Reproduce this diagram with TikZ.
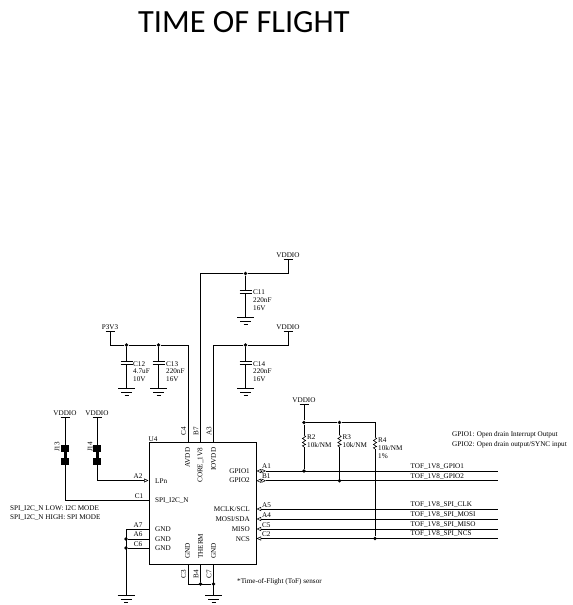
\documentclass[tikz,border=0pt]{standalone}
\usepackage{fontspec}
\setmainfont{Liberation Serif}
\newfontfamily\titlefont{Carlito}
\usetikzlibrary{arrows.meta,positioning}

\tikzset{
	lbl/.style={inner sep=0pt, font=\fontsize{7.2}{8}\selectfont},
	wire/.style={line width=0.8bp},
	dot/.style={shape=circle, fill=black, inner sep=0pt, minimum size=3.8bp},
	gndsym/.pic={\draw[line width=0.8bp] (-8.5,0) -- (8.5,0) (-5.5,3.8) -- (5.5,3.8) (-2,7.2) -- (2,7.2);},
	railbar/.pic={\draw[line width=0.8bp] (-4.5,0) -- (4.5,0);},
	capsym/.pic={\fill[white] (-6,0) rectangle (6,3); \draw[line width=0.8bp] (-6,0) -- (6,0) (-6,3) -- (6,3);},
	ressym/.pic={\fill[white] (-3,-6) rectangle (3,6); \draw[line width=0.6bp] (0,-6) -- (1.6,-4.5) -- (-1.6,-2.5) -- (1.6,-0.5) -- (-1.6,1.5) -- (1.6,3.5) -- (-1.6,4.8) -- (0,6);},
	jumpsym/.pic={\fill (-4,-7) rectangle (4,0); \fill (-1.5,0) rectangle (1.5,6); \fill (-4,6) rectangle (4,13);},
}

\begin{document}
\begin{tikzpicture}[x=1bp,y=-1bp,>={Triangle[open,length=4.5bp,width=4bp,line width=0.5bp]}]
	\useasboundingbox (0,0) rectangle (573,605);
	% create the nodes
	\node (title)[inner sep=0pt, anchor=base west, font=\titlefont\fontsize{32.5}{36}\selectfont] at (138,33) {TIME OF FLIGHT};
	\node (u4)[draw, line width=0.8bp, minimum width=107.5bp, minimum height=122bp, inner sep=0pt, anchor=north west] at (148.5,442.2) {};
	\node (u4name)[lbl, anchor=south west] at (148.5,441.5) {U4};

	% supply rails
	\coordinate (vdd1) at (288,259);
	\coordinate (vdd2) at (288,331);
	\coordinate (vdd3) at (304,404);
	\coordinate (vdd4) at (65,417);
	\coordinate (vdd5) at (97,417);
	\coordinate (p3v3) at (110,331);
	\node (vdd1lbl)[lbl, above =1.5bp of vdd1] {VDDIO};
	\node (vdd2lbl)[lbl, above =1.5bp of vdd2] {VDDIO};
	\node (vdd3lbl)[lbl, above =1.5bp of vdd3] {VDDIO};
	\node (vdd4lbl)[lbl, above =1.5bp of vdd4] {VDDIO};
	\node (vdd5lbl)[lbl, above =1.5bp of vdd5] {VDDIO};
	\node (p3v3lbl)[lbl, above =1.5bp of p3v3] {P3V3};

	% junctions
	\node (j11)[dot] at (245.5,273.5) {};
	\node (j14)[dot] at (245.5,345) {};
	\node (j12)[dot] at (126.5,345) {};
	\node (j13)[dot] at (158.5,345) {};
	\node (jr2)[dot] at (304,422.5) {};
	\node (jr3)[dot] at (339.5,422.5) {};
	\node (jg1)[dot] at (304,471) {};
	\node (jg2)[dot] at (339.5,480.7) {};
	\node (jncs)[dot] at (375,538.5) {};
	\node (ja6)[dot] at (126,539) {};
	\node (jc6)[dot] at (126,548) {};
	\node (jb4)[dot] at (200.5,584) {};
	\node (jc7)[dot] at (213.5,584) {};

	% ends of the wires
	\coordinate (g11) at (245.5,317.5);
	\coordinate (g14) at (245.5,388.5);
	\coordinate (g12) at (126.5,388.5);
	\coordinate (g13) at (158.5,388.5);
	\coordinate (gl) at (126,595.5);
	\coordinate (gb) at (213.5,595.5);
	\coordinate (c4top) at (188,345);
	\coordinate (b7top) at (200.5,273.5);
	\coordinate (a3top) at (213.5,345);
	\coordinate (c4) at (188,442.2);
	\coordinate (b7) at (200.5,442.2);
	\coordinate (a3) at (213.5,442.2);
	\coordinate (c3) at (188,564);
	\coordinate (b4) at (200.5,564);
	\coordinate (c7) at (213.5,564);
	\coordinate (c3b) at (188,584);
	\coordinate (a2) at (148.5,480.5);
	\coordinate (c1) at (148.5,500);
	\coordinate (a7) at (148.5,529);
	\coordinate (a6) at (148.5,539);
	\coordinate (c6) at (148.5,548);
	\coordinate (a7l) at (126,529);
	\coordinate (a2l) at (97,480.5);
	\coordinate (c1l) at (65,500);
	\coordinate (a1) at (256.5,471);
	\coordinate (a1b) at (266,471);
	\coordinate (b1) at (256.5,480.7);
	\coordinate (b1b) at (266,480.7);
	\coordinate (a5) at (256.5,509);
	\coordinate (a4) at (256.5,519);
	\coordinate (c5) at (256.5,529);
	\coordinate (c2) at (256.5,538.5);
	\coordinate (r4top) at (375,422.5);

	% nets
	\node (tofa1)[lbl, anchor=south west] at (410.5,469.5) {TOF\_1V8\_GPIO1};
	\node (tofb1)[lbl, anchor=south west] at (410.5,479.2) {TOF\_1V8\_GPIO2};
	\node (tofa5)[lbl, anchor=south west] at (410.5,507.5) {TOF\_1V8\_SPI\_CLK};
	\node (tofa4)[lbl, anchor=south west] at (410.5,517.5) {TOF\_1V8\_SPI\_MOSI};
	\node (tofc5)[lbl, anchor=south west] at (410.5,527.5) {TOF\_1V8\_SPI\_MISO};
	\node (tofc2)[lbl, anchor=south west] at (410.5,537) {TOF\_1V8\_SPI\_NCS};
	\coordinate (enda1) at (498,471);
	\coordinate (endb1) at (498,480.7);
	\coordinate (enda5) at (498,509);
	\coordinate (enda4) at (498,519);
	\coordinate (endc5) at (498,529);
	\coordinate (endc2) at (498,538.5);

	% connect the nodes
	\draw[wire] (vdd1) |- (j11) -- (b7top) -- (b7);
	\draw[wire] (j11) -- (g11);
	\draw[wire] (vdd2) |- (j14) -- (a3top) -- (a3);
	\draw[wire] (j14) -- (g14);
	\draw[wire] (p3v3) |- (j12) -- (j13) -- (c4top) -- (c4);
	\draw[wire] (j12) -- (g12);
	\draw[wire] (j13) -- (g13);
	\draw[wire] (vdd3) -- (jr2) -- (jr3) -- (r4top) -- (jncs);
	\draw[wire] (jr2) -- (jg1);
	\draw[wire] (jr3) -- (jg2);
	\draw[wire] (vdd4) |- (c1l) -- (c1);
	\draw[wire, ->] (vdd5) |- (a2);
	\draw[wire] (a7) -- (a7l) -- (gl);
	\draw[wire] (a6) -- (ja6);
	\draw[wire] (c6) -- (jc6);
	\draw[wire] (c3) -- (c3b) -- (jc7);
	\draw[wire] (b4) -- (jb4);
	\draw[wire] (c7) -- (gb);
	\draw[wire, <->] (a1) -- (a1b);
	\draw[wire, <->] (b1) -- (b1b);
	\draw[wire] (a1b) -- (enda1);
	\draw[wire] (b1b) -- (endb1);
	\draw[wire, <-] (a5) -- (enda5);
	\draw[wire, <-] (a4) -- (enda4);
	\draw[wire, ->] (endc5) -- (c5);
	\draw[wire, <-] (c2) -- (endc2);

	% symbols
	\pic at (vdd1) {railbar};
	\pic at (vdd2) {railbar};
	\pic at (vdd3) {railbar};
	\pic at (vdd4) {railbar};
	\pic at (vdd5) {railbar};
	\pic at (p3v3) {railbar};
	\pic at (g11) {gndsym};
	\pic at (g14) {gndsym};
	\pic at (g12) {gndsym};
	\pic at (g13) {gndsym};
	\pic at (gl) {gndsym};
	\pic at (gb) {gndsym};
	\pic at (245.5,290) {capsym};
	\pic at (245.5,361) {capsym};
	\pic at (126.5,361) {capsym};
	\pic at (158.5,361) {capsym};
	\pic at (304,441) {ressym};
	\pic at (339.5,441) {ressym};
	\pic at (375,443) {ressym};
	\pic at (65,452) {jumpsym};
	\pic at (97,452) {jumpsym};

	% part labels
	\node (c11a)[lbl, anchor=west] at (253,292) {C11};
	\node (c11b)[lbl, anchor=west] at (253,300) {220nF};
	\node (c11c)[lbl, anchor=west] at (253,308) {16V};
	\node (c14a)[lbl, anchor=west] at (253,364) {C14};
	\node (c14b)[lbl, anchor=west] at (253,371.5) {220nF};
	\node (c14c)[lbl, anchor=west] at (253,379.5) {16V};
	\node (c12a)[lbl, anchor=west] at (133,364) {C12};
	\node (c12b)[lbl, anchor=west] at (133,371.5) {4.7uF};
	\node (c12c)[lbl, anchor=west] at (133,379.5) {10V};
	\node (c13a)[lbl, anchor=west] at (166,364) {C13};
	\node (c13b)[lbl, anchor=west] at (166,371.5) {220nF};
	\node (c13c)[lbl, anchor=west] at (166,379.5) {16V};
	\node (r2a)[lbl, anchor=west] at (307,437.5) {R2};
	\node (r2b)[lbl, anchor=west] at (307,445.5) {10k/NM};
	\node (r3a)[lbl, anchor=west] at (342.5,437.5) {R3};
	\node (r3b)[lbl, anchor=west] at (342.5,445.5) {10k/NM};
	\node (r4a)[lbl, anchor=west] at (378,440) {R4};
	\node (r4b)[lbl, anchor=west] at (378,448) {10k/NM};
	\node (r4c)[lbl, anchor=west] at (378,456.5) {1\%};
	\node (j13lbl)[lbl, rotate=90] at (57,447) {J13};
	\node (j14lbl)[lbl, rotate=90] at (90,447) {J14};

	% pin numbers
	\node (nc4)[lbl, rotate=90] at (183.5,431.5) {C4};
	\node (nb7)[lbl, rotate=90] at (196,431.5) {B7};
	\node (na3)[lbl, rotate=90] at (209,431.5) {A3};
	\node (nc3)[lbl, rotate=90] at (183.5,574.5) {C3};
	\node (nb4)[lbl, rotate=90] at (196,574.5) {B4};
	\node (nc7)[lbl, rotate=90] at (209,574.5) {C7};
	\node (na2)[lbl] at (138,476.5) {A2};
	\node (nc1)[lbl] at (139,496.5) {C1};
	\node (na7)[lbl] at (138,525.5) {A7};
	\node (na6)[lbl] at (138,534.5) {A6};
	\node (nc6)[lbl] at (138,544) {C6};
	\node (na1)[lbl, anchor=west] at (262,466.5) {A1};
	\node (nb1)[lbl, anchor=west] at (262,476) {B1};
	\node (na5)[lbl, anchor=west] at (262,505) {A5};
	\node (na4)[lbl, anchor=west] at (262,515) {A4};
	\node (nc5)[lbl, anchor=west] at (262,525) {C5};
	\node (nc2)[lbl, anchor=west] at (262,534.5) {C2};

	% pin names
	\node (pavdd)[lbl, rotate=90, anchor=east] at (187.5,447.5) {AVDD};
	\node (pcore)[lbl, rotate=90, anchor=east] at (200.5,447.5) {CORE\_1V8};
	\node (piovdd)[lbl, rotate=90, anchor=east] at (213.5,447.5) {IOVDD};
	\node (pgnda)[lbl, rotate=90, anchor=west] at (187.5,559) {GND};
	\node (ptherm)[lbl, rotate=90, anchor=west] at (200.5,559) {THERM};
	\node (pgndb)[lbl, rotate=90, anchor=west] at (213.5,559) {GND};
	\node (plpn)[lbl, anchor=west] at (155,481) {LPn};
	\node (pspi)[lbl, anchor=west] at (155,501) {SPI\_I2C\_N};
	\node (pgnd1)[lbl, anchor=west] at (155,529.5) {GND};
	\node (pgnd2)[lbl, anchor=west] at (155,539) {GND};
	\node (pgnd3)[lbl, anchor=west] at (155,548.5) {GND};
	\node (pgpio1)[lbl, anchor=east] at (250,471) {GPIO1};
	\node (pgpio2)[lbl, anchor=east] at (250,480.5) {GPIO2};
	\node (pmclk)[lbl, anchor=east] at (250,509.5) {MCLK/SCL};
	\node (pmosi)[lbl, anchor=east] at (250,519.5) {MOSI/SDA};
	\node (pmiso)[lbl, anchor=east] at (250,529.5) {MISO};
	\node (pncs)[lbl, anchor=east] at (250,539) {NCS};

	% notes
	\node (notea)[lbl, anchor=west] at (10,508.5) {SPI\_I2C\_N LOW: I2C MODE};
	\node (noteb)[lbl, anchor=west] at (10,518) {SPI\_I2C\_N HIGH: SPI MODE};
	\node (notec)[lbl, anchor=west] at (452,434.5) {GPIO1: Open drain Interrupt Output};
	\node (noted)[lbl, anchor=west] at (452,444.5) {GPIO2: Open drain output/SYNC input};
	\node (notee)[lbl, anchor=west] at (237,581.5) {*Time-of-Flight (ToF) sensor};
\end{tikzpicture}
\end{document}
